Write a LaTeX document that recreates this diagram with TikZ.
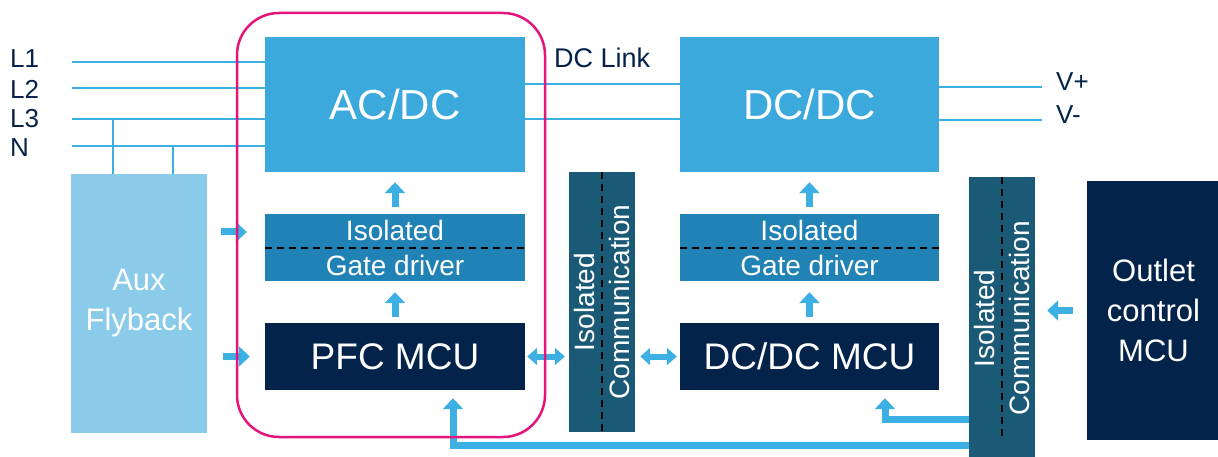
\documentclass[tikz,border=0pt]{standalone}
\usepackage{fontspec}
\setmainfont{Liberation Sans}
\usetikzlibrary{arrows.meta}
\definecolor{stnavy}{HTML}{03234B}
\definecolor{stblue}{HTML}{3CA9DC}
\definecolor{stgate}{HTML}{2182B6}
\definecolor{staux}{HTML}{8BCBEA}
\definecolor{stiso}{HTML}{1A5A77}
\definecolor{stwire}{HTML}{3DB0E3}
\definecolor{stpink}{HTML}{E5147D}

\begin{document}
\begin{tikzpicture}[x=1pt,y=-1pt,
        block/.style={rectangle,inner sep=0pt,text=white,align=center},
        conv/.style={block,fill=stblue,minimum width=260pt,minimum height=135pt,font=\fontsize{42}{48}\selectfont},
        gatebox/.style={block,fill=stgate,minimum width=260pt,minimum height=67pt,font=\fontsize{28}{35}\selectfont},
        mcu/.style={block,fill=stnavy,minimum width=260pt,minimum height=67pt,font=\fontsize{37}{40}\selectfont},
        sidebox/.style={block,font=\fontsize{31}{40}\selectfont},
        isobox/.style={block,fill=stiso,minimum width=66pt},
        isotext/.style={text=white,rotate=90,align=center,inner sep=0pt,font=\fontsize{28}{35}\selectfont},
        pin/.style={text=stnavy,anchor=west,inner sep=0pt,font=\fontsize{26}{30}\selectfont},
        wire/.style={draw=stwire,line width=2.5pt},
        fat/.style={draw=stwire,line width=7pt,-{Triangle[length=11pt,width=20pt]}},
        fatboth/.style={draw=stwire,line width=6pt,{Triangle[length=10pt,width=17pt]}-{Triangle[length=10pt,width=17pt]}},
        sep/.style={dash pattern=on 7pt off 5pt,line width=2pt,black}]
        \useasboundingbox (0,0) rectangle (1218,457);

        \node[conv] (acdc) at (395,104.5) {AC/DC};
        \node[conv,minimum width=259pt] (dcdc) at (809.5,104.5) {DC/DC};
        \node[gatebox] (gate1) at (395,247.5) {Isolated\\Gate driver};
        \node[gatebox,minimum width=259pt] (gate2) at (809.5,247.5) {Isolated\\Gate driver};
        \node[mcu] (pfc) at (395,356.5) {PFC MCU};
        \node[mcu,minimum width=259pt] (dcmcu) at (809.5,356.5) {DC/DC MCU};
        \node[sidebox,fill=staux,minimum width=136pt,minimum height=259pt] (aux) at (139,303.5) {Aux\\Flyback};
        \node[sidebox,fill=stnavy,minimum width=133pt,minimum height=259pt] (outlet) at (1153.5,310.5) {Outlet\\control\\MCU};
        \node[isobox,minimum height=260pt] (iso1) at (602,302) {};
        \node[isotext] (iso1txt) at (iso1) {Isolated\\Communication};
        \node[isobox,minimum height=283pt] (iso2) at (1002,318.5) {};
        \node[isotext] (iso2txt) at (iso2) {Isolated\\Communication};

        \draw[sep] (gate1.west) -- (gate1.east);
        \draw[sep] (gate2.west) -- (gate2.east);
        \draw[sep] (iso1.north) -- (iso1.south);
        \draw[sep] (iso2.north) -- ([yshift=22pt]iso2.south);

        \node[pin] (l1) at (10,59) {L1};
        \node[pin] (l2) at (10,89) {L2};
        \node[pin] (l3) at (10,119) {L3};
        \node[pin] (n) at (10,148) {N};
        \coordinate (w1) at (72,62);
        \coordinate (w2) at (72,88);
        \coordinate (w3) at (72,119);
        \coordinate (w4) at (72,146);
        \draw[wire] (w1) -- (w1 -| acdc.west);
        \draw[wire] (w2) -- (w2 -| acdc.west);
        \draw[wire] (w3) -- (w3 -| acdc.west);
        \draw[wire] (w4) -- (w4 -| acdc.west);
        \coordinate (t3) at (113,119);
        \coordinate (t4) at (173,146);
        \draw[wire] (t3) -- (t3 |- aux.north);
        \draw[wire] (t4) -- (t4 |- aux.north);

        \node[pin,font=\fontsize{27}{30}\selectfont] (dclink) at (554,58) {DC Link};
        \draw[wire] ([yshift=20.5pt]acdc.east) -- ([yshift=20.5pt]dcdc.west);
        \draw[wire] ([yshift=-14.5pt]acdc.east) -- ([yshift=-14.5pt]dcdc.west);

        \node[pin] (vplus) at (1056,82) {V+};
        \node[pin] (vminus) at (1056,115) {V-};
        \coordinate (vp) at (1042,87);
        \coordinate (vm) at (1042,120);
        \draw[wire] (vp -| dcdc.east) -- (vp);
        \draw[wire] (vm -| dcdc.east) -- (vm);

        \draw[fat,shorten <=7pt,shorten >=10pt] (gate1.north) -- (acdc.south);
        \draw[fat,shorten <=6pt,shorten >=11pt] (pfc.north) -- (gate1.south);
        \draw[fat,shorten <=7pt,shorten >=10pt] (gate2.north) -- (dcdc.south);
        \draw[fat,shorten <=6pt,shorten >=11pt] (dcmcu.north) -- (gate2.south);

        \coordinate (gin1) at ([yshift=15.5pt]gate1.west);
        \draw[fat,shorten <=14pt,shorten >=18pt] (gin1 -| aux.east) -- (gin1);
        \draw[fat,shorten <=16pt,shorten >=15pt] (aux.east |- pfc.west) -- (pfc.west);

        \draw[fatboth,shorten <=2pt,shorten >=4pt] (pfc.east) -- (pfc.east -| iso1.west);
        \draw[fatboth,shorten <=5pt,shorten >=3pt] (dcmcu.west -| iso1.east) -- (dcmcu.west);
        \draw[fat,shorten <=14pt,shorten >=12pt] (outlet.west) -- (outlet.west -| iso2.east);

        \coordinate (fb2) at ([yshift=-100.5pt]iso2.west);
        \draw[fat,shorten >=8pt] (fb2) -| ([xshift=75.5pt]dcmcu.south);
        \coordinate (fb1) at ([yshift=-126.5pt]iso2.west);
        \draw[fat,shorten >=8pt] (fb1) -| ([xshift=58pt]pfc.south);

        \node[draw=stpink,line width=2.5pt,rounded corners=42pt,minimum width=308pt,minimum height=424pt,inner sep=0pt] (pfcstage) at (391,225) {};
\end{tikzpicture}
\end{document}
